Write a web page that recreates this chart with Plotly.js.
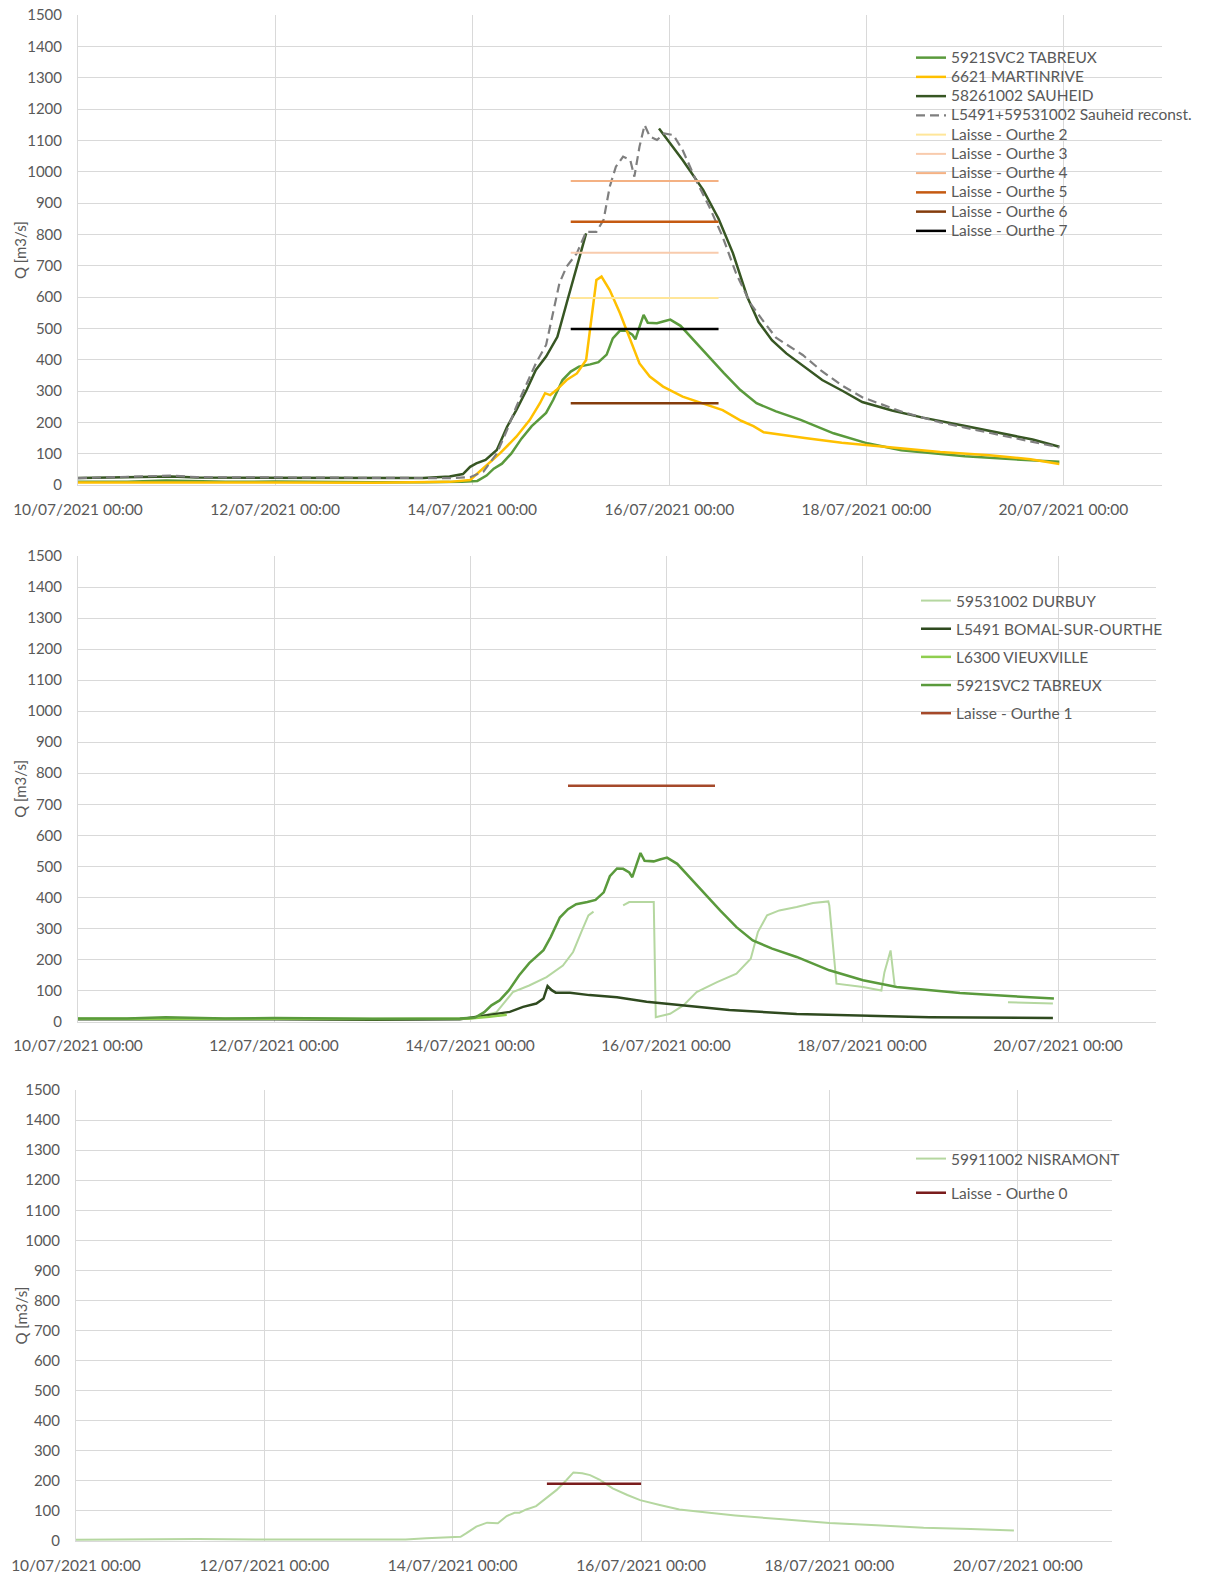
<!DOCTYPE html>
<html>
<head>
<meta charset="utf-8">
<script src="https://cdn.plot.ly/plotly-3.0.1.min.js"></script>
<style>html,body{margin:0;padding:0;background:#fff;}#chart{width:1222px;height:1573px;}</style>
</head>
<body>
<div id="chart"></div>
<script>
// ---------- DATA ----------
const xTickVals = ['2021-07-10','2021-07-12','2021-07-14','2021-07-16','2021-07-18','2021-07-20'];
const xTickText = ['10/07/2021 00:00','12/07/2021 00:00','14/07/2021 00:00','16/07/2021 00:00','18/07/2021 00:00','20/07/2021 00:00'];
const yTitle = 'Q [m3/s]';

// 5921SVC2 TABREUX
const tabreuxT = ['2021-07-10 00:00','2021-07-10 12:00','2021-07-10 21:30','2021-07-11 02:30','2021-07-11 12:00','2021-07-12 00:00','2021-07-12 12:00','2021-07-13 00:00','2021-07-13 12:00','2021-07-13 21:30',
 '2021-07-14 01:15','2021-07-14 03:30','2021-07-14 05:15','2021-07-14 07:15','2021-07-14 09:30','2021-07-14 12:00','2021-07-14 14:30','2021-07-14 16:45','2021-07-14 18:00','2021-07-14 19:45','2021-07-14 22:00',
 '2021-07-15 00:00','2021-07-15 02:00','2021-07-15 04:45','2021-07-15 06:45','2021-07-15 08:45','2021-07-15 10:15','2021-07-15 12:00','2021-07-15 13:30','2021-07-15 15:00','2021-07-15 15:45','2021-07-15 16:45','2021-07-15 17:45','2021-07-15 18:45','2021-07-15 21:00','2021-07-15 22:30',
 '2021-07-16 00:15','2021-07-16 02:45','2021-07-16 05:45','2021-07-16 09:00','2021-07-16 13:15','2021-07-16 17:15','2021-07-16 21:15','2021-07-17 02:00','2021-07-17 08:00','2021-07-17 16:00','2021-07-18 00:15','2021-07-18 08:30','2021-07-18 16:30','2021-07-19 00:00','2021-07-19 12:00','2021-07-19 23:00'];
const tabreuxQ = [10,10,14,12,10,11,9,9,9,10,
 13,30,52,68,100,148,188,215,230,272,335,
 362,378,385,392,416,468,493,492,480,465,505,543,518,516,522,
 528,508,465,417,358,304,261,235,208,165,133,111,100,92,82,74];

// 6621 MARTINRIVE
const martinT = ['2021-07-10 00:00','2021-07-11 00:00','2021-07-12 00:00','2021-07-13 00:00','2021-07-13 18:30','2021-07-13 23:30',
 '2021-07-14 02:45','2021-07-14 06:45','2021-07-14 10:45','2021-07-14 14:00','2021-07-14 16:30','2021-07-14 17:45','2021-07-14 19:00','2021-07-14 20:30','2021-07-14 23:00',
 '2021-07-15 01:30','2021-07-15 03:45','2021-07-15 05:00','2021-07-15 06:15','2021-07-15 07:30','2021-07-15 09:30','2021-07-15 12:00','2021-07-15 14:30','2021-07-15 16:45','2021-07-15 19:15','2021-07-15 22:30',
 '2021-07-16 03:15','2021-07-16 08:15','2021-07-16 13:00','2021-07-16 17:30','2021-07-16 20:30','2021-07-16 23:00','2021-07-17 03:00','2021-07-17 09:00','2021-07-17 18:00','2021-07-18 06:00','2021-07-18 18:00','2021-07-19 06:00','2021-07-19 16:00','2021-07-19 23:00'];
const martinQ = [8,9,8,7,10,16,
 53,101,154,207,261,293,287,303,335,
 356,399,527,654,665,622,548,463,388,346,314,
 282,261,239,205,188,168,160,150,135,120,105,95,82,67];

// 58261002 SAUHEID (gap = no data)
const sauheidT = ['2021-07-10 00:00','2021-07-10 22:45','2021-07-11 05:00','2021-07-12 00:00','2021-07-13 00:00','2021-07-13 12:00','2021-07-13 18:30','2021-07-13 21:45','2021-07-13 23:30',
 '2021-07-14 01:00','2021-07-14 03:15','2021-07-14 06:00','2021-07-14 08:30','2021-07-14 10:45','2021-07-14 13:15','2021-07-14 15:30','2021-07-14 18:00','2021-07-14 20:45','2021-07-14 23:00',
 '2021-07-15 01:30','2021-07-15 03:45','2021-07-15 12:00','2021-07-15 21:30',
 '2021-07-16 03:15','2021-07-16 08:15','2021-07-16 12:00','2021-07-16 15:30','2021-07-16 19:00','2021-07-16 21:45',
 '2021-07-17 01:00','2021-07-17 04:30','2021-07-17 08:30','2021-07-17 13:15','2021-07-17 18:15','2021-07-17 23:00','2021-07-18 06:15','2021-07-18 13:45','2021-07-18 23:30','2021-07-19 09:00','2021-07-19 16:30','2021-07-19 23:00'];
const sauheidQ = [22,27,24,24,22,22,27,35,58,
 69,80,112,186,239,303,367,410,473,580,
 697,803,null,1138,
 1037,942,850,740,600,520,
 462,420,380,335,300,265,238,215,190,165,145,122];

// L5491+59531002 Sauheid reconst.
const reconstT = ['2021-07-10 00:00','2021-07-10 22:45','2021-07-11 05:00','2021-07-12 00:00','2021-07-13 00:00','2021-07-13 18:30','2021-07-13 23:30',
 '2021-07-14 02:45','2021-07-14 06:00','2021-07-14 08:30','2021-07-14 10:45','2021-07-14 13:15','2021-07-14 15:30','2021-07-14 18:00','2021-07-14 19:45','2021-07-14 21:15','2021-07-14 23:00',
 '2021-07-15 01:30','2021-07-15 03:45','2021-07-15 06:15','2021-07-15 08:00','2021-07-15 09:30','2021-07-15 11:00','2021-07-15 12:45','2021-07-15 14:30','2021-07-15 15:30','2021-07-15 16:45','2021-07-15 18:00','2021-07-15 19:15','2021-07-15 21:00','2021-07-15 22:45',
 '2021-07-16 01:00','2021-07-16 03:15','2021-07-16 06:30','2021-07-16 09:45','2021-07-16 13:00','2021-07-16 16:15','2021-07-16 19:45','2021-07-16 22:30',
 '2021-07-17 02:00','2021-07-17 08:30','2021-07-17 13:00','2021-07-17 18:00','2021-07-17 23:00','2021-07-18 09:00','2021-07-18 18:00','2021-07-19 09:00','2021-07-19 23:00'];
const reconstQ = [22,30,25,24,22,22,25,
 43,101,176,250,325,388,447,548,644,697,
 740,808,808,846,952,1016,1048,1037,984,1080,1149,1112,1101,1122,
 1117,1069,973,888,792,676,580,530,
 470,415,365,318,280,232,200,158,120];

// 59531002 DURBUY (gaps = no data)
const durbuyT = ['2021-07-10 00:00','2021-07-12 00:00','2021-07-14 00:00','2021-07-14 06:30','2021-07-14 10:30','2021-07-14 14:30','2021-07-14 18:45','2021-07-14 22:45',
 '2021-07-15 01:15','2021-07-15 03:15','2021-07-15 05:00','2021-07-15 06:15','2021-07-15 09:30','2021-07-15 13:30','2021-07-15 15:00','2021-07-15 21:00','2021-07-15 21:30',
 '2021-07-16 01:00','2021-07-16 04:15','2021-07-16 07:30','2021-07-16 12:30','2021-07-16 17:15','2021-07-16 20:45','2021-07-16 22:30',
 '2021-07-17 00:45','2021-07-17 03:45','2021-07-17 08:00','2021-07-17 12:00','2021-07-17 15:45','2021-07-17 16:00','2021-07-17 17:45',
 '2021-07-18 00:15','2021-07-18 04:45','2021-07-18 05:30','2021-07-18 07:00','2021-07-18 08:00','2021-07-18 12:00','2021-07-19 11:45','2021-07-19 22:45'];
const durbuyQ = [8,7,8,30,95,116,143,180,
 224,288,342,354,null,374,385,385,14,
 25,52,95,127,154,202,288,
 342,358,369,382,387,374,122,
 111,100,159,229,116,null,62,58];

// L5491 BOMAL-SUR-OURTHE
const bomalT = ['2021-07-10 00:00','2021-07-11 00:00','2021-07-12 00:00','2021-07-13 00:00','2021-07-13 21:30',
 '2021-07-14 01:45','2021-07-14 06:30','2021-07-14 09:45','2021-07-14 13:00','2021-07-14 16:15','2021-07-14 18:00','2021-07-14 19:00','2021-07-14 20:00','2021-07-14 21:00',
 '2021-07-15 00:30','2021-07-15 05:15','2021-07-15 12:00','2021-07-15 19:15','2021-07-16 03:15','2021-07-16 15:30','2021-07-17 08:00','2021-07-18 00:15','2021-07-18 16:30','2021-07-19 22:45'];
const bomalQ = [7,8,7,6,7,
 15,25,31,47,58,74,114,101,93,
 93,85,78,64,53,37,24,18,14,11];

// L6300 VIEUXVILLE
const vieuxT = ['2021-07-10 00:00','2021-07-11 00:00','2021-07-12 00:00','2021-07-13 00:00','2021-07-14 00:00','2021-07-14 04:45','2021-07-14 09:00'];
const vieuxQ = [9,10,9,8,10,15,22];

// 59911002 NISRAMONT
const nisraT = ['2021-07-10 00:00','2021-07-11 00:00','2021-07-11 07:00','2021-07-12 00:00','2021-07-13 00:00','2021-07-13 12:00','2021-07-13 17:15',
 '2021-07-14 02:00','2021-07-14 03:30','2021-07-14 06:00','2021-07-14 08:45','2021-07-14 11:30','2021-07-14 13:45','2021-07-14 15:45','2021-07-14 17:00','2021-07-14 18:45','2021-07-14 21:15','2021-07-14 23:45',
 '2021-07-15 02:30','2021-07-15 05:00','2021-07-15 06:45','2021-07-15 09:00','2021-07-15 11:00','2021-07-15 13:30','2021-07-15 16:45','2021-07-15 20:30','2021-07-15 23:45',
 '2021-07-16 04:45','2021-07-16 09:45','2021-07-16 15:00','2021-07-17 00:00','2021-07-17 12:00','2021-07-18 00:00','2021-07-18 12:00','2021-07-19 00:00','2021-07-19 12:00','2021-07-19 23:00'];
const nisraQ = [4,5,7,5,5,5,9,
 14,26,48,61,59,83,94,94,105,116,142,
 170,203,228,225,219,203,175,153,136,
 120,105,97,85,72,60,52,44,40,35];

// Laisses (high-water marks)
const laisseT = ['2021-07-15 00:00','2021-07-16 12:00'];
const laisse0T = ['2021-07-15 00:00','2021-07-16 00:00'];
const laisseNames = ['Laisse - Ourthe 2','Laisse - Ourthe 3','Laisse - Ourthe 4','Laisse - Ourthe 5','Laisse - Ourthe 6','Laisse - Ourthe 7'];
const laisseQ = [597, 741, 970, 840, 261, 498];
const laisse1Q = 760;
const laisse0Q = 190;

// ---------- STYLE ----------
const C = {
  tabreux:'#5a9a3c', martin:'#ffc000', sauheid:'#375623', reconst:'#7f7f7f',
  durbuy:'#b5d7a0', bomal:'#2f4a1f', vieux:'#8fce4f', nisra:'#b5d7a0',
  laisse:['#ffe699','#f8cbad','#f4b183','#c55a11','#843c0c','#000000'],
  laisse1:'#a5492a', laisse0:'#7a1c1c'
};
const laisseW = [2,2,2,2.5,2.5,2.5];
const FONT = 'Lato, "Open Sans", "Liberation Sans", sans-serif';
const TXT = '#595959';

// legend 1 uses a compact row height: big text inside a small legend font
function big(s) { return '<span style="font-size:15.5px">' + s + '</span>'; }

function line(x, y, name, color, width, xa, ya, leg, extra) {
  return Object.assign({
    type:'scatter', mode:'lines', x:x, y:y, name:name,
    line:{color:color, width:width}, xaxis:xa, yaxis:ya, legend:leg,
    legendgroup: leg + name, hoverinfo:'skip'
  }, extra || {});
}

const traces = [];
// Panel 1
traces.push(line(tabreuxT, tabreuxQ, big('5921SVC2 TABREUX'), C.tabreux, 2.5, 'x', 'y', 'legend'));
traces.push(line(martinT, martinQ, big('6621 MARTINRIVE'), C.martin, 2.5, 'x', 'y', 'legend'));
traces.push(line(sauheidT, sauheidQ, big('58261002 SAUHEID'), C.sauheid, 2.5, 'x', 'y', 'legend'));
traces.push(line(reconstT, reconstQ, big('L5491+59531002 Sauheid reconst.'), C.reconst, 2.2, 'x', 'y', 'legend',
  {line:{color:C.reconst, width:2.2, dash:'9px,5px'}}));
laisseNames.forEach((n,i)=>{
  traces.push(line(laisseT, [laisseQ[i], laisseQ[i]], big(n), C.laisse[i], laisseW[i], 'x', 'y', 'legend'));
});
// Panel 2
traces.push(line(durbuyT, durbuyQ, '59531002 DURBUY', C.durbuy, 2, 'x2', 'y2', 'legend2'));
traces.push(line(bomalT, bomalQ, 'L5491 BOMAL-SUR-OURTHE', C.bomal, 2.5, 'x2', 'y2', 'legend2'));
traces.push(line(vieuxT, vieuxQ, 'L6300 VIEUXVILLE', C.vieux, 2.5, 'x2', 'y2', 'legend2'));
traces.push(line(tabreuxT, tabreuxQ, '5921SVC2 TABREUX', C.tabreux, 2.5, 'x2', 'y2', 'legend2'));
traces.push(line(laisseT, [laisse1Q, laisse1Q], 'Laisse - Ourthe 1', C.laisse1, 2.5, 'x2', 'y2', 'legend2'));
// Panel 3
traces.push(line(nisraT, nisraQ, '59911002 NISRAMONT', C.nisra, 2, 'x3', 'y3', 'legend3'));
traces.push(line(laisse0T, [laisse0Q, laisse0Q], 'Laisse - Ourthe 0', C.laisse0, 2.5, 'x3', 'y3', 'legend3'));

const H = 1573, W = 1222;
function xax(l, r, anchor) {
  return {
    type:'date', domain:[l/W, r/W], anchor:anchor,
    range:['2021-07-10 00:00','2021-07-21 00:00'],
    tickmode:'array', tickvals:xTickVals, ticktext:xTickText,
    showgrid:true, gridcolor:'#d9d9d9', gridwidth:1,
    showline:true, linecolor:'#d9d9d9', linewidth:1,
    zeroline:false, ticks:'', ticklabelstandoff:10,
    tickfont:{family:FONT, size:15.5, color:TXT}, fixedrange:true
  };
}
function yax(top, bottom, anchor) {
  return {
    domain:[1 - bottom/H, 1 - top/H], anchor:anchor,
    range:[0,1500], dtick:100, tick0:0,
    showgrid:true, gridcolor:'#d9d9d9', gridwidth:1,
    showline:true, linecolor:'#d9d9d9', linewidth:1,
    zeroline:false, ticks:'', ticklabelstandoff:12,
    tickfont:{family:FONT, size:15, color:TXT},
    fixedrange:true
  };
}
function leg(x, top, gap, fsize) {
  return {
    x:x/W, y:1 - top/H, xanchor:'left', yanchor:'top',
    bgcolor:'rgba(0,0,0,0)', borderwidth:0,
    font:{family:FONT, size:fsize, color:TXT},
    traceorder:'grouped', tracegroupgap:gap, itemwidth:30
  };
}
function ytitle(top, bottom) {
  return {
    text:yTitle, xref:'paper', yref:'paper', x:20/W, y:1 - (top + bottom)/2/H,
    xanchor:'center', yanchor:'middle', textangle:-90, showarrow:false,
    font:{family:FONT, size:15, color:TXT}
  };
}

const layout = {
  width:W, height:H,
  margin:{l:0, r:0, t:0, b:0},
  paper_bgcolor:'#ffffff', plot_bgcolor:'#ffffff',
  font:{family:FONT, size:15, color:TXT},
  showlegend:true,
  xaxis:xax(78, 1162, 'y'), yaxis:yax(15, 485, 'x'),
  xaxis2:xax(78, 1156, 'y2'), yaxis2:yax(556, 1021.5, 'x2'),
  xaxis3:xax(76, 1112, 'y3'), yaxis3:yax(1090, 1541, 'x3'),
  legend:leg(911, 43, 0, 12.5),
  legend2:leg(916, 584, 5, 15.5),
  legend3:leg(911, 1142, 11, 15.5),
  annotations:[ytitle(15,485), ytitle(556,1021.5), ytitle(1090,1541)]
};

Plotly.newPlot('chart', traces, layout, {staticPlot:true, displayModeBar:false});
</script>
</body>
</html>
